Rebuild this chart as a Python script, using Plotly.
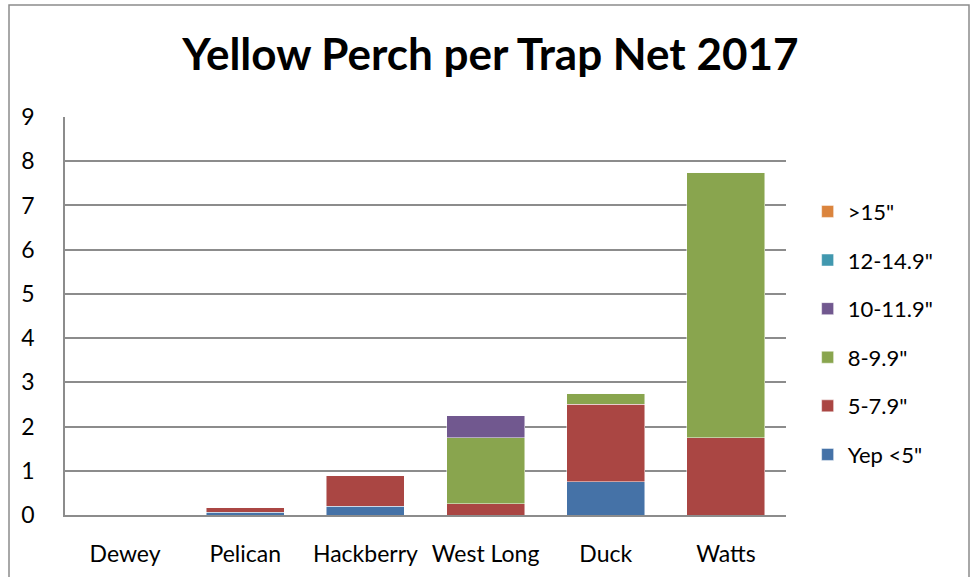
import plotly.graph_objects as go

categories = ["Dewey", "Pelican", "Hackberry", "West Long", "Duck", "Watts"]
series_names = ["Yep <5\"", "5-7.9\"", "8-9.9\"", "10-11.9\"", "12-14.9\"", ">15\""]
yep_lt5 = [0, 0.06, 0.2, 0, 0.75, 0]
s5_79 = [0, 0.11, 0.7, 0.25, 1.75, 1.75]
s8_99 = [0, 0, 0, 1.5, 0.25, 6.0]
s10_119 = [0, 0, 0, 0.5, 0, 0]
s12_149 = [0, 0, 0, 0, 0, 0]
s_gt15 = [0, 0, 0, 0, 0, 0]
y_ticks = [0, 1, 2, 3, 4, 5, 6, 7, 8, 9]

colors = ["#4572A7", "#AA4643", "#89A54E", "#71588F", "#4198AF", "#DB843D"]
values = [yep_lt5, s5_79, s8_99, s10_119, s12_149, s_gt15]

FONT = "Lato"
fig = go.Figure()
for i, (name, vals, col) in enumerate(zip(series_names, values, colors)):
    fig.add_trace(go.Bar(
        x=categories, y=vals, name=name,
        marker=dict(color=col, line=dict(color="rgba(255,255,255,0.6)", width=0.8)),
        legendgroup=name, legendrank=1000 - i,
    ))

fig.update_layout(
    barmode="stack",
    bargap=0.35,
    width=975, height=577,
    margin=dict(l=65, r=189, t=117, b=62),
    paper_bgcolor="white", plot_bgcolor="white",
    font=dict(family=FONT, color="black", size=23),
    title=dict(text="<b>Yellow Perch per Trap Net 2017</b>", x=0.503, xanchor="center",
               y=0.905, yanchor="middle", font=dict(size=44, family=FONT, color="black")),
    legend=dict(x=1.03, y=0.815, xanchor="left", yanchor="top", traceorder="grouped",
                tracegroupgap=17, font=dict(size=22, family=FONT), itemwidth=30),
    showlegend=True,
)
fig.update_xaxes(showline=True, linecolor="#8c8c8c", linewidth=1.5, ticks="",
                 showgrid=False, ticklabelstandoff=18, tickfont=dict(size=23), automargin=False)
fig.update_yaxes(range=[0, 9], tickvals=y_ticks, showline=True, linecolor="#8c8c8c", linewidth=1.5,
                 showgrid=True, gridcolor="#8c8c8c", gridwidth=1.5, ticks="",
                 ticklabelstandoff=24, tickfont=dict(size=23), zeroline=False, automargin=False)

fig.add_shape(type="rect", xref="paper", yref="paper",
              x0=(9 - 65) / 721, x1=(969 - 65) / 721,
              y0=(515 - 590) / 398, y1=(515 - 5) / 398,
              line=dict(color="#8c8c8c", width=1.5), fillcolor="rgba(0,0,0,0)", layer="below")

fig.write_html("out.html")
